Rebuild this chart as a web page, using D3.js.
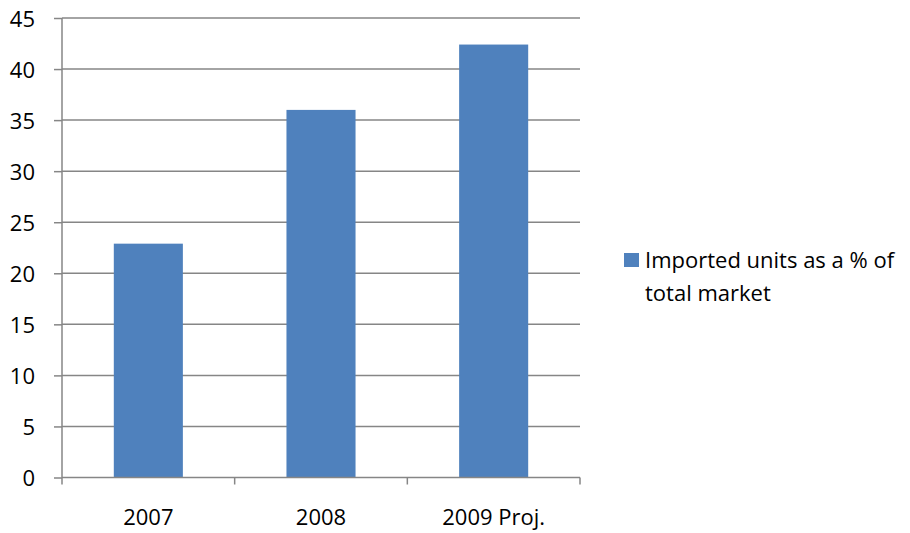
<!DOCTYPE html>
<html><head><meta charset="utf-8">
<script src="https://cdn.jsdelivr.net/npm/d3@7/dist/d3.min.js"></script>
<style>body{margin:0;background:#fff}svg{display:block}text{font-family:"Open Sans",sans-serif;fill:#000}</style>
</head><body><svg id="c" width="910" height="533"></svg>
<script>
const categories = ["2007", "2008", "2009 Proj."];
const values = [22.9, 36.0, 42.4];
const yTicks = [0, 5, 10, 15, 20, 25, 30, 35, 40, 45];
const seriesName = ["Imported units as a % of", "total market"];

const svg = d3.select("#c");
const x = d3.scaleBand().domain(categories).range([62, 580]).paddingInner(0.6).paddingOuter(0.3);
const y = d3.scaleLinear().domain([0, 45]).range([477.5, 18]);
const grey = "#868686";

// gridlines
svg.append("g").selectAll("line").data(yTicks.filter(d => d > 0)).join("line")
  .attr("x1", 62).attr("x2", 580).attr("y1", d => y(d)).attr("y2", d => y(d))
  .attr("stroke", grey).attr("stroke-width", 1.5);

// bars
svg.append("g").selectAll("rect").data(values).join("rect")
  .attr("x", (d, i) => x(categories[i])).attr("width", x.bandwidth())
  .attr("y", d => y(d)).attr("height", d => y(0) - y(d)).attr("fill", "#4F81BD");

// y axis
const yAxis = d3.axisLeft(y).tickValues(yTicks).tickSize(8).tickPadding(19);
const gy = svg.append("g").attr("transform", "translate(62,0)").call(yAxis);
gy.select(".domain").attr("stroke", grey).attr("stroke-width", 1.5).attr("d", `M0,${y(45)}V${y(0)}`);
gy.selectAll(".tick line").attr("stroke", grey).attr("stroke-width", 1.5);
gy.selectAll(".tick text").style("font-size", "22px").attr("dy", "0.38em");

// x axis
const gx = svg.append("g").attr("transform", `translate(0,${y(0)})`);
gx.append("line").attr("x1", 62).attr("x2", 580).attr("stroke", grey).attr("stroke-width", 1.5);
const bounds = [62].concat(categories.map(c => x(c) + x.bandwidth() / 2 + x.step() / 2));
gx.selectAll("line.t").data(bounds).join("line").attr("class", "t")
  .attr("x1", d => d).attr("x2", d => d).attr("y1", 0).attr("y2", 7)
  .attr("stroke", grey).attr("stroke-width", 1.5);
gx.selectAll("text").data(categories).join("text")
  .attr("x", d => x(d) + x.bandwidth() / 2).attr("y", 47)
  .attr("text-anchor", "middle").style("font-size", "22px").text(d => d);

// legend
const lg = svg.append("g");
lg.append("rect").attr("x", 624).attr("y", 253).attr("width", 15).attr("height", 14).attr("fill", "#4F81BD");
lg.selectAll("text").data(seriesName).join("text")
  .attr("x", 645).attr("y", (d, i) => 268 + i * 33)
  .style("font-size", "22px").text(d => d);
</script></body></html>
